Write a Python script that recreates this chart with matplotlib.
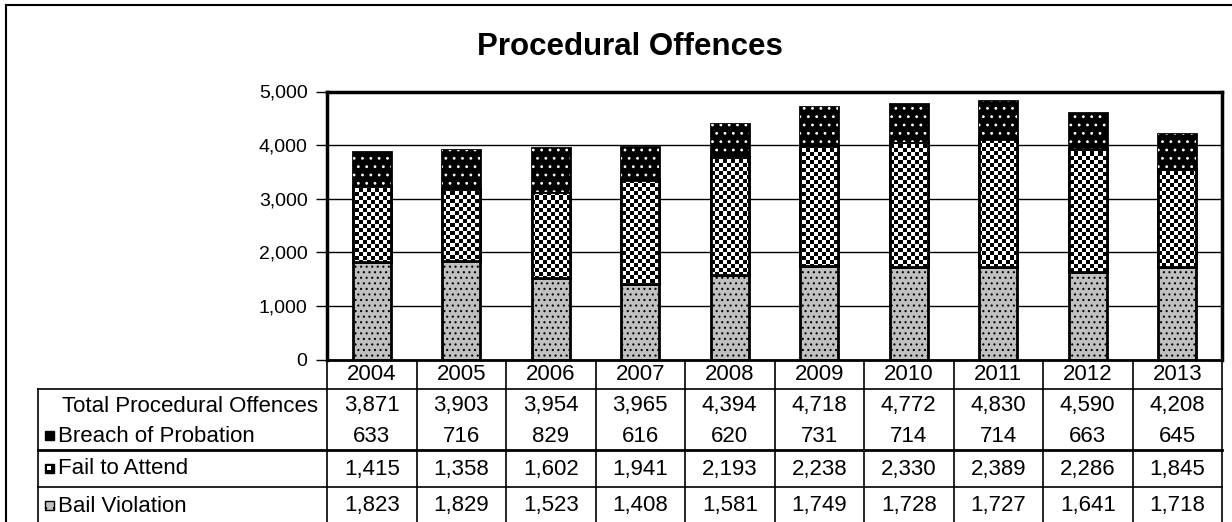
"""Procedural offences stacked bar chart with Excel-style data table."""

import matplotlib
matplotlib.use("Agg")
import matplotlib.pyplot as plt
import matplotlib.transforms as mtransforms
from matplotlib.patches import Rectangle
import numpy as np

plt.rcParams["font.family"] = ["Liberation Sans", "DejaVu Sans"]
plt.rcParams["hatch.linewidth"] = 0.8

years = [2004, 2005, 2006, 2007, 2008, 2009, 2010, 2011, 2012, 2013]
total = [3871, 3903, 3954, 3965, 4394, 4718, 4772, 4830, 4590, 4208]
breach = [633, 716, 829, 616, 620, 731, 714, 714, 663, 645]
fail = [1415, 1358, 1602, 1941, 2193, 2238, 2330, 2389, 2286, 1845]
bail = [1823, 1829, 1523, 1408, 1581, 1749, 1728, 1727, 1641, 1718]
yticks = [0, 1000, 2000, 3000, 4000, 5000]

W, H = 1232, 522
GRAY = "#c0c0c0"


def px_box(x0, y0, x1, y1):
    return [x0 / W, 1 - y1 / H, (x1 - x0) / W, (y1 - y0) / H]


def fmt(v):
    return f"{v:,}"


fig = plt.figure(figsize=(W / 100, H / 100), dpi=100)
ax = fig.add_axes(px_box(327, 91.5, 1222, 359.5))
pix = fig.add_axes([0, 0, 1, 1], zorder=-1)
pix.set_xlim(0, W)
pix.set_ylim(H, 0)
pix.axis("off")

x = np.arange(len(years))
width = 0.42
bail_a = np.array(bail)
fail_a = np.array(fail)
breach_a = np.array(breach)

ax.bar(x, bail_a, width, color=GRAY, edgecolor="black", hatch="...", linewidth=2, zorder=2)

fail_bars = ax.bar(x, fail_a, width, bottom=bail_a, color="white", edgecolor="black",
                   linewidth=2, zorder=2)
# checkerboard fill, clipped to each bar (~4 px squares)
checker = np.add.outer(np.arange(67), np.arange(224)) % 2
for patch in fail_bars:
    im = ax.imshow(checker, cmap="gray", extent=(-0.5, 9.5, 0, 5000), aspect="auto",
                   interpolation="nearest", zorder=2.5)
    im.set_clip_path(patch)
ax.bar(x, fail_a, width, bottom=bail_a, color="none", edgecolor="black", linewidth=2, zorder=3)

top_bottom = bail_a + fail_a
ax.bar(x, breach_a, width, bottom=top_bottom, color="black", edgecolor="black",
       linewidth=2, zorder=2)
ax.bar(x, breach_a, width, bottom=top_bottom, color="none", edgecolor="white",
       hatch="..", linewidth=0, zorder=3)

ax.set_xlim(-0.5, len(years) - 0.5)
ax.set_ylim(0, 5000)
ax.set_xticks([])
ax.set_yticks(yticks)
ax.set_yticklabels([fmt(v) for v in yticks], fontsize=14)
ax.tick_params(axis="y", direction="out", length=8, width=1, pad=6)
ax.yaxis.grid(True, color="black", linewidth=1)
ax.set_axisbelow(True)
for side in ("left", "top", "right"):
    ax.spines[side].set_linewidth(2.5)
ax.spines["bottom"].set_linewidth(2)

fig.text(630 / W, 1 - 47 / H, "Procedural Offences", ha="center", va="center",
         fontsize=22.5, fontweight="bold")

# outer chart frame
pix.plot([6, W], [5, 5], color="black", linewidth=1.5)
pix.plot([6, 6], [5, H], color="black", linewidth=1.5)

# data table: x in bar data coords, y in pixels
trans = mtransforms.blended_transform_factory(ax.transData, pix.transData)
tsize = 16
for xi, yr in zip(x, years):
    pix.text(xi, 375, str(yr), transform=trans, ha="center", va="center", fontsize=tsize)
rows = [(406, total), (436, breach), (469, fail), (506, bail)]
for yrow, vals in rows:
    for xi, v in zip(x, vals):
        pix.text(xi, yrow, fmt(v), transform=trans, ha="center", va="center", fontsize=tsize)

for xb in np.arange(len(years) + 1) - 0.5:
    pix.plot([xb, xb], [359.5, H], transform=trans, color="black", linewidth=1.2)
pix.plot([38, 38], [389, H], color="black", linewidth=1.2)
pix.plot([38, 1222], [389, 389], color="black", linewidth=1.2)
pix.plot([38, 1222], [449.5, 449.5], color="black", linewidth=2)
pix.plot([38, 1222], [486.5, 486.5], color="black", linewidth=1.2)

pix.text(318, 406, "Total Procedural Offences", ha="right", va="center", fontsize=tsize)
pix.text(58, 436, "Breach of Probation", ha="left", va="center", fontsize=tsize)
pix.text(58, 469, "Fail to Attend", ha="left", va="center", fontsize=tsize)
pix.text(58, 506, "Bail Violation", ha="left", va="center", fontsize=tsize)

# legend keys
pix.add_patch(Rectangle((45, 431), 9, 9, facecolor="black", edgecolor="black", linewidth=1))
pix.add_patch(Rectangle((45, 464), 9, 9, facecolor="black", edgecolor="black", linewidth=1))
pix.add_patch(Rectangle((47, 466), 4, 4, facecolor="white", edgecolor="none"))
pix.add_patch(Rectangle((45, 501), 9, 9, facecolor=GRAY, edgecolor="black", linewidth=1,
                        hatch=".."))

fig.savefig("out.png", dpi=100)
